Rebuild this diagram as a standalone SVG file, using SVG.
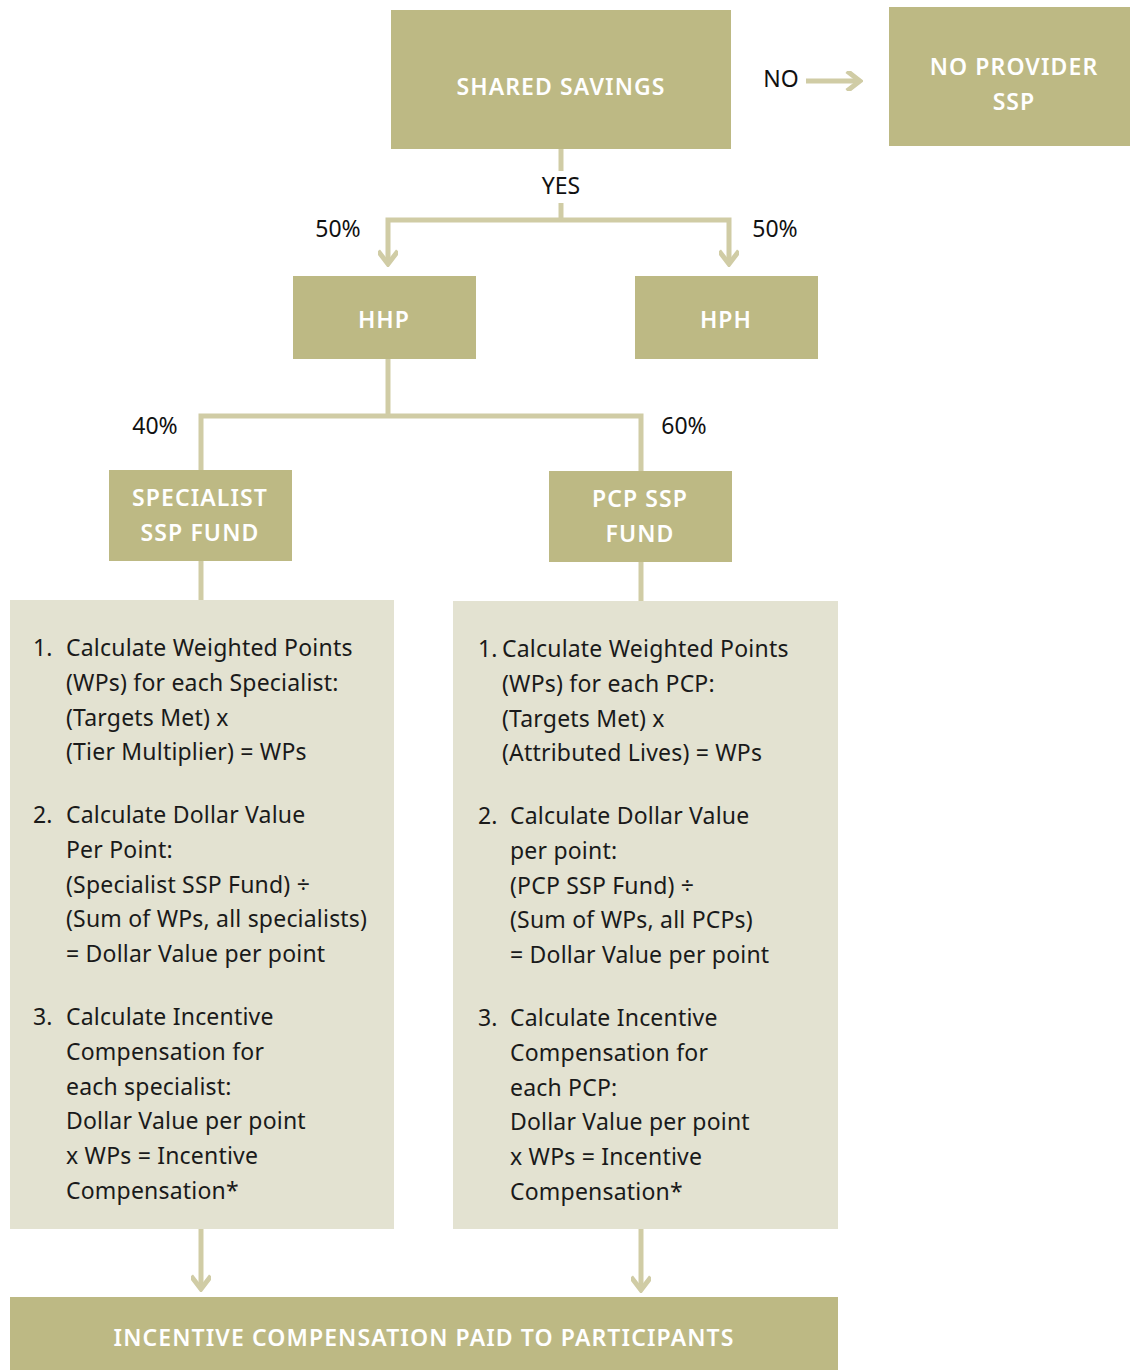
<svg xmlns="http://www.w3.org/2000/svg" width="1130" height="1370" viewBox="0 0 1130 1370">
<defs>
<style>
.box{fill:#bdb984}
.panel{fill:#e3e2d1}
.bt{font-family:"Noto Sans",Lato,sans-serif;font-size:23px;font-weight:600;fill:#ffffff;text-anchor:middle;letter-spacing:1.1px}
.lbl{font-family:"Noto Sans",Lato,sans-serif;font-size:23px;fill:#111111}
.tx{font-family:"Noto Sans",Lato,sans-serif;font-size:23px;fill:#1a1a1a;letter-spacing:0.2px}
.ln{fill:none;stroke:#d0cca5;stroke-width:5}
</style>
<marker id="chev" viewBox="0 0 20 20" refX="17" refY="10" markerWidth="20" markerHeight="20" markerUnits="userSpaceOnUse" orient="auto">
<path d="M4,0 L17,10 L4,20" fill="none" stroke="#d0cca5" stroke-width="5"/>
</marker>
</defs>
<rect width="1130" height="1370" fill="#ffffff"/>
<g id="connectors">
<path class="ln" d="M806,81 H860" marker-end="url(#chev)"/>
<path class="ln" d="M561,149 V171"/>
<path class="ln" d="M561,203 V220"/>
<path class="ln" d="M561,220 H388 V264" marker-end="url(#chev)"/>
<path class="ln" d="M561,220 H729 V264" marker-end="url(#chev)"/>
<path class="ln" d="M388,359 V416"/>
<path class="ln" d="M388,416 H201 V470"/>
<path class="ln" d="M388,416 H641 V471"/>
<path class="ln" d="M201,561 V600"/>
<path class="ln" d="M641,562 V601"/>
<path class="ln" d="M201,1229 V1289" marker-end="url(#chev)"/>
<path class="ln" d="M641,1229 V1290" marker-end="url(#chev)"/>
<text class="lbl" x="781" y="87" text-anchor="middle">NO</text>
<text class="lbl" x="561" y="194" text-anchor="middle">YES</text>
<text class="lbl" x="338" y="237" text-anchor="middle">50%</text>
<text class="lbl" x="775" y="237" text-anchor="middle">50%</text>
<text class="lbl" x="155" y="434" text-anchor="middle">40%</text>
<text class="lbl" x="684" y="434" text-anchor="middle">60%</text>
</g>
<g id="shared-savings">
<rect class="box" x="391" y="10" width="340" height="139"/>
<text class="bt" x="561" y="95">SHARED SAVINGS</text>
</g>
<g id="no-provider-ssp">
<rect class="box" x="889" y="7" width="241" height="139"/>
<text class="bt" x="1014" y="75">NO PROVIDER</text>
<text class="bt" x="1014" y="110">SSP</text>
</g>
<g id="hhp">
<rect class="box" x="293" y="276" width="183" height="83"/>
<text class="bt" x="384" y="328">HHP</text>
</g>
<g id="hph">
<rect class="box" x="635" y="276" width="183" height="83"/>
<text class="bt" x="726" y="328">HPH</text>
</g>
<g id="specialist-fund">
<rect class="box" x="109" y="470" width="183" height="91"/>
<text class="bt" x="200" y="506">SPECIALIST</text>
<text class="bt" x="200" y="541">SSP FUND</text>
</g>
<g id="pcp-fund">
<rect class="box" x="549" y="471" width="183" height="91"/>
<text class="bt" x="640" y="507">PCP SSP</text>
<text class="bt" x="640" y="542">FUND</text>
</g>
<g id="specialist-steps">
<rect class="panel" x="10" y="600" width="384" height="629"/>
<text class="tx" x="33" y="656">1.</text>
<text class="tx" x="66" y="656">Calculate Weighted Points</text>
<text class="tx" x="66" y="691">(WPs) for each Specialist:</text>
<text class="tx" x="66" y="726">(Targets Met) x</text>
<text class="tx" x="66" y="760">(Tier Multiplier) = WPs</text>
<text class="tx" x="33" y="823">2.</text>
<text class="tx" x="66" y="823">Calculate Dollar Value</text>
<text class="tx" x="66" y="858">Per Point:</text>
<text class="tx" x="66" y="893">(Specialist SSP Fund) ÷</text>
<text class="tx" x="66" y="927">(Sum of WPs, all specialists)</text>
<text class="tx" x="66" y="962">= Dollar Value per point</text>
<text class="tx" x="33" y="1025">3.</text>
<text class="tx" x="66" y="1025">Calculate Incentive</text>
<text class="tx" x="66" y="1060">Compensation for</text>
<text class="tx" x="66" y="1095">each specialist:</text>
<text class="tx" x="66" y="1129">Dollar Value per point</text>
<text class="tx" x="66" y="1164">x WPs = Incentive</text>
<text class="tx" x="66" y="1199">Compensation*</text>
</g>
<g id="pcp-steps">
<rect class="panel" x="453" y="601" width="385" height="628"/>
<text class="tx" x="478" y="657">1.</text>
<text class="tx" x="502" y="657">Calculate Weighted Points</text>
<text class="tx" x="502" y="692">(WPs) for each PCP:</text>
<text class="tx" x="502" y="727">(Targets Met) x</text>
<text class="tx" x="502" y="761">(Attributed Lives) = WPs</text>
<text class="tx" x="478" y="824">2.</text>
<text class="tx" x="510" y="824">Calculate Dollar Value</text>
<text class="tx" x="510" y="859">per point:</text>
<text class="tx" x="510" y="894">(PCP SSP Fund) ÷</text>
<text class="tx" x="510" y="928">(Sum of WPs, all PCPs)</text>
<text class="tx" x="510" y="963">= Dollar Value per point</text>
<text class="tx" x="478" y="1026">3.</text>
<text class="tx" x="510" y="1026">Calculate Incentive</text>
<text class="tx" x="510" y="1061">Compensation for</text>
<text class="tx" x="510" y="1096">each PCP:</text>
<text class="tx" x="510" y="1130">Dollar Value per point</text>
<text class="tx" x="510" y="1165">x WPs = Incentive</text>
<text class="tx" x="510" y="1200">Compensation*</text>
</g>
<g id="incentive-paid">
<rect class="box" x="10" y="1297" width="828" height="73"/>
<text class="bt" x="424" y="1346">INCENTIVE COMPENSATION PAID TO PARTICIPANTS</text>
</g>
</svg>
